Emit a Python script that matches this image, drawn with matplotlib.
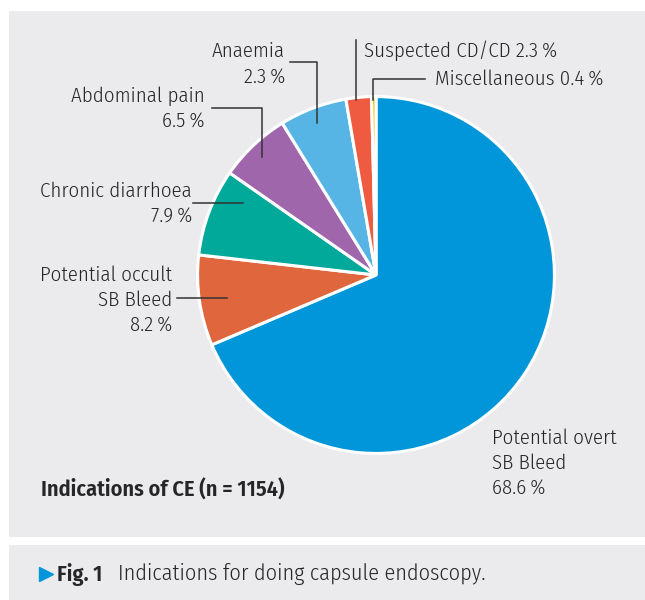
import matplotlib
matplotlib.use("Agg")
import matplotlib.pyplot as plt
from matplotlib.patches import Rectangle

plt.rcParams['font.family'] = ['Fira Sans Condensed', 'DejaVu Sans']

# data (slice sizes in percent, clockwise from 12 o'clock)
categories = ['Potential overt SB Bleed', 'Potential occult SB Bleed',
              'Chronic diarrhoea', 'Abdominal pain', 'Anaemia',
              'Suspected CD/CD', 'Miscellaneous']
values = [68.6, 8.2, 7.9, 6.5, 6.1, 2.3, 0.4]
# printed labels (the anaemia label in the source says 2.3 %)
label_texts = ['Potential overt\nSB Bleed\n68.6\u2009%',
               'Potential occult\nSB Bleed\n8.2\u2009%',
               'Chronic diarrhoea\n7.9\u2009%',
               'Abdominal pain\n6.5\u2009%',
               'Anaemia\n2.3\u2009%',
               'Suspected CD/CD 2.3\u2009%',
               'Miscellaneous 0.4\u2009%']
colors = ['#0096d9', '#e0673d', '#00a99a', '#a066ab', '#56b5e5', '#ef5b40', '#f6c200']

W, H = 645, 600
fig = plt.figure(figsize=(W / 100, H / 100), dpi=100)
fig.patch.set_facecolor('white')

# background panels
bg = fig.add_axes([0, 0, 1, 1], zorder=0)
bg.set_xlim(0, W)
bg.set_ylim(H, 0)
bg.axis('off')
panel = '#ebebee'
bg.add_patch(Rectangle((9, 11), W - 9, 526, color=panel, lw=0))
bg.add_patch(Rectangle((9, 545), W - 9, 60, color=panel, lw=0))

# pie axes: centre (376, 275) px, radius 182 px
cx, cy, r = 376, 275, 182
ax = fig.add_axes([(cx - r) / W, (H - cy - r) / H, 2 * r / W, 2 * r / H], zorder=1)
ax.pie(values, colors=colors, startangle=90, counterclock=False, radius=1,
       wedgeprops=dict(edgecolor='white', linewidth=2.2))
ax.set_xlim(-1.02, 1.02)
ax.set_ylim(-1.02, 1.02)
ax.set_axis_off()

# overlay for labels and leader lines (pixel coordinates)
ov = fig.add_axes([0, 0, 1, 1], zorder=2)
ov.set_xlim(0, W)
ov.set_ylim(H, 0)
ov.axis('off')
ov.patch.set_alpha(0)

tc = '#262626'
fs = 15
ls = 1.36
fw = 300

ov.text(492, 463, label_texts[0], ha='left', va='center', fontsize=fs, color=tc, linespacing=ls,
        fontweight=fw)
for txt, (x, y) in zip(label_texts[1:5], [(172, 300), (192, 204), (205, 108.5), (285, 64)]):
    ov.text(x, y, txt, ha='right', va='center', fontsize=fs, color=tc, linespacing=ls,
            multialignment='right', fontweight=fw)
ov.text(364, 51, label_texts[5], ha='left', va='center', fontsize=fs, color=tc, fontweight=fw)
ov.text(435, 79, label_texts[6], ha='left', va='center', fontsize=fs, color=tc, fontweight=fw)

lc = '#333333'
lw = 1.1
ov.plot([177, 227], [298, 298], color=lc, lw=lw)
ov.plot([193, 243], [203, 203], color=lc, lw=lw)
ov.plot([212, 262, 262], [108, 108, 157], color=lc, lw=lw)
ov.plot([290, 317, 317], [62, 62, 123], color=lc, lw=lw)
ov.plot([356, 356], [40, 100], color=lc, lw=lw)
ov.plot([425, 373, 373], [79, 79, 100], color=lc, lw=lw)

ov.text(41, 490, 'Indications of CE (n = 1154)', ha='left', va='center',
        fontsize=16, fontweight=600, color=tc)

# caption
ov.plot([46], [574], marker='>', color='#0096d9', markersize=10, lw=0)
ov.text(57, 574, 'Fig.\u20091', ha='left', va='center', fontsize=16, fontweight=600, color=tc)
ov.text(118, 574, 'Indications for doing capsule endoscopy.', ha='left', va='center',
        fontsize=16, color=tc, fontweight=fw)

fig.savefig('out.png', dpi=100)
